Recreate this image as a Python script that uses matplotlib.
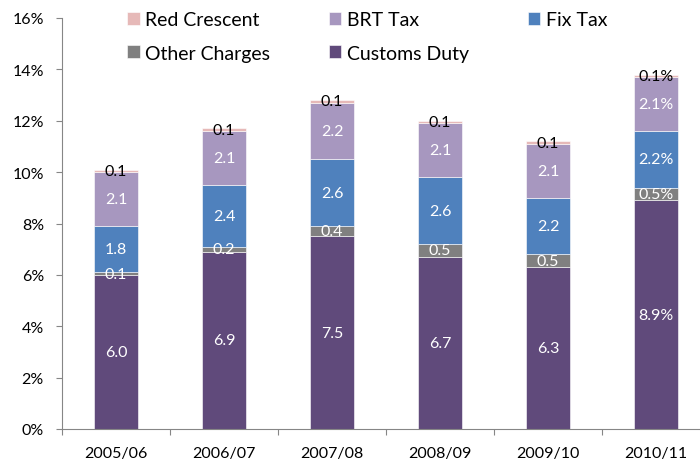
import matplotlib
matplotlib.use("Agg")
import matplotlib.pyplot as plt
import numpy as np

plt.rcParams['font.family'] = ['Lato', 'DejaVu Sans']

categories = ["2005/06", "2006/07", "2007/08", "2008/09", "2009/10", "2010/11"]
customs_duty = [6.0, 6.9, 7.5, 6.7, 6.3, 8.9]
other_charges = [0.1, 0.2, 0.4, 0.5, 0.5, 0.5]
fix_tax = [1.8, 2.4, 2.6, 2.6, 2.2, 2.2]
brt_tax = [2.1, 2.1, 2.2, 2.1, 2.1, 2.1]
red_crescent = [0.1, 0.1, 0.1, 0.1, 0.1, 0.1]

series = [
    ("Customs Duty", customs_duty, "#604A7B", "white"),
    ("Other Charges", other_charges, "#808080", "white"),
    ("Fix Tax", fix_tax, "#4F81BD", "white"),
    ("BRT Tax", brt_tax, "#A797BF", "white"),
    ("Red Crescent", red_crescent, "#E6B9B8", "black"),
]

fig = plt.figure(figsize=(7.0, 4.64), dpi=100)
ax = fig.add_axes([62/700, 34/464, 648/700, 411/464])

x = np.arange(len(categories))
bottom = np.zeros(len(categories))
handles = {}
for name, vals, color, tcolor in series:
    vals = np.array(vals)
    b = ax.bar(x, vals, 0.4, bottom=bottom, color=color, edgecolor="white",
               linewidth=0.4, label=name)
    handles[name] = b
    for i, v in enumerate(vals):
        txt = f"{v:.1f}%" if i == len(categories) - 1 else f"{v:.1f}"
        ax.text(x[i], bottom[i] + v / 2, txt, ha="center", va="center",
                color=tcolor, fontsize=11.5)
    bottom += vals

ax.set_xlim(-0.5, 5.5)
ax.set_ylim(0, 16)
ax.set_yticks(range(0, 17, 2))
ax.set_yticklabels([f"{t}%" for t in range(0, 17, 2)])
ax.set_xticks(x)
ax.set_xticklabels(categories)
ax.set_xticks(np.arange(-0.5, 6.0, 1.0), minor=True)
ax.tick_params(axis="x", which="major", length=0, pad=12, labelsize=11.5)
ax.tick_params(axis="x", which="minor", length=4, color="#868686", width=0.8)
ax.tick_params(axis="y", length=4, color="#868686", width=0.8, pad=9, labelsize=11.5)

for s in ["top", "right"]:
    ax.spines[s].set_visible(False)
for s in ["left", "bottom"]:
    ax.spines[s].set_color("#868686")
    ax.spines[s].set_linewidth(0.8)

order = ["Red Crescent", "Other Charges", "BRT Tax", "Customs Duty", "Fix Tax"]
leg = ax.legend([handles[n] for n in order], order, ncol=3,
                loc="upper left", bbox_to_anchor=(127/700, 1 - 12/464),
                bbox_transform=fig.transFigure, frameon=False, fontsize=14,
                handlelength=0.65, handleheight=0.65, handletextpad=0.3,
                columnspacing=3.0, labelspacing=0.85, borderpad=0, borderaxespad=0)

fig.savefig("out.png", dpi=100)
